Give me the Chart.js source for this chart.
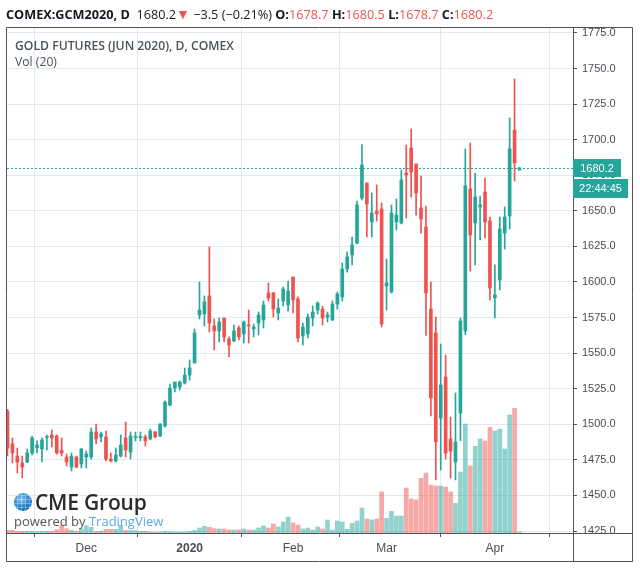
<!DOCTYPE html>
<html>
<head>
<meta charset="utf-8">
<title>GCM2020 daily</title>
<script src="https://cdn.jsdelivr.net/npm/chart.js@4.4.1/dist/chart.umd.min.js"></script>
<style>
  body { margin: 0; background: #fff; }
  #box { position: relative; width: 640px; height: 569px; overflow: hidden; font-family: "Open Sans", sans-serif; }
  #box canvas { position: absolute; left: 0; top: 0; }
  .lbl { position: absolute; white-space: nowrap; line-height: normal; }
  #head { left: 6px; top: 5px; font-size: 12.7px; color: #131722; }
  #head b { font-weight: 700; }
  .dn { color: #ef5350; }
  .tri { font-size: 14px; line-height: 10px; }
  #title { left: 15px; top: 37px; font-size: 12.2px; font-weight: 600; color: #4c525e; }
  #vol { left: 15px; top: 53px; font-size: 12.2px; color: #4c525e; }
  #globe { position: absolute; left: 14px; top: 493px; width: 18px; height: 18px; border-radius: 50%;
    background:
      repeating-linear-gradient(90deg, transparent 0 3px, rgba(255,255,255,0.3) 3px 4px),
      repeating-linear-gradient(0deg, transparent 0 3px, rgba(255,255,255,0.3) 3px 4px),
      radial-gradient(circle at 40% 35%, #8cc8f0 0%, #2a86cc 45%, #0b5c9e 100%); }
  #cme { left: 35px; top: 488px; font-size: 21px; font-weight: 600; color: #2b2b2b; letter-spacing: -0.2px; }
  #pby { left: 14px; top: 512px; font-size: 13px; color: #555; }
  #pby span { color: #5aa8ec; }
</style>
</head>
<body>
<div id="box">
  <canvas id="c" width="640" height="569"></canvas>
  <div class="lbl" id="head"></div>
  <div class="lbl" id="title">GOLD FUTURES (JUN 2020), D, COMEX</div>
  <div class="lbl" id="vol">Vol (20)</div>
  <div id="globe"></div>
  <div class="lbl" id="cme">CME Group</div>
  <div class="lbl" id="pby">powered by <span>TradingView</span></div>
</div>
<script>
// daily bars, 7 Nov 2019 .. 8 Apr 2020 (index = trading day)
const open = [
  1509.3,1486.2,1477.7,1472.8,1473.5,1479.8,1483.5,1482.6,1490.7,1492.5,
  1491.8,1481.9,1477.0,1470.0,1477.0,1472.1,1477.0,1477.0,1494.6,1491.1,
  1491.1,1475.6,1474.2,1477.7,1490.4,1480.5,1490.7,1490.7,1491.1,1489.7,
  1494.6,1491.8,1498.8,1513.6,1525.5,1526.2,1529.0,1534.6,1543.1,1576.8,
  1577.5,1590.2,1569.1,1565.6,1574.7,1560.0,1558.5,1567.7,1563.5,1569.8,
  1567.0,1571.2,1573.3,1592.3,1592.3,1578.2,1586.7,1583.8,1603.5,1588.1,
  1562.1,1563.5,1574.7,1580.3,1581.0,1575.4,1573.3,1584.5,1589.5,1609.1,
  1619.0,1627.4,1659.0,1669.6,1642.2,1649.9,1651.3,1597.2,1593.0,1642.2,
  1641.5,1676.6,1694.2,1682.9,1652.0,1638.7,1581.0,1564.2,1504.4,1533.2,
  1489.7,1473.5,1507.9,1565.6,1665.4,1641.5,1652.7,1663.3,1642.9,1588.8,
  1601.4,1634.4,1646.4,1706.8,1678.7
];
const high = [
  1510.5,1490.4,1483.3,1477.7,1482.6,1491.8,1488.3,1490.4,1492.5,1496.0,
  1492.5,1490.4,1479.1,1479.8,1477.7,1483.0,1481.2,1497.4,1500.2,1494.6,
  1495.3,1479.8,1483.3,1492.5,1501.6,1494.6,1494.6,1494.6,1492.5,1496.7,
  1495.0,1500.5,1516.4,1528.3,1529.7,1530.4,1539.6,1545.2,1567.0,1600.0,
  1590.2,1624.6,1574.0,1574.7,1574.7,1561.4,1569.8,1569.1,1572.6,1580.3,
  1570.5,1578.9,1586.7,1599.3,1592.8,1588.1,1596.5,1600.7,1603.5,1589.5,
  1571.2,1577.5,1583.1,1586.0,1583.1,1578.9,1586.7,1593.0,1613.4,1621.1,
  1631.6,1656.9,1696.5,1669.6,1662.6,1668.2,1655.5,1616.2,1654.1,1658.3,
  1678.7,1696.3,1707.5,1682.9,1674.5,1653.4,1600.0,1575.4,1556.4,1548.7,
  1505.1,1522.0,1574.7,1693.5,1697.7,1676.4,1660.4,1673.1,1645.7,1612.0,
  1645.7,1652.7,1715.3,1742.7,1680.5
];
const low = [
  1477.7,1472.8,1465.8,1462.3,1473.0,1478.4,1479.8,1473.5,1481.9,1484.0,
  1479.0,1477.7,1470.7,1467.2,1469.3,1469.3,1469.3,1475.6,1486.2,1487.6,
  1474.2,1473.5,1473.5,1477.0,1477.0,1475.6,1488.3,1488.3,1484.7,1489.0,
  1490.5,1491.5,1498.0,1512.9,1522.7,1524.1,1528.3,1531.1,1543.1,1574.0,
  1569.1,1564.9,1552.2,1557.8,1557.8,1547.3,1558.0,1559.3,1557.1,1557.1,
  1561.4,1562.8,1567.7,1586.7,1575.4,1573.3,1583.1,1579.5,1578.2,1557.8,
  1555.7,1560.7,1569.1,1577.5,1569.8,1571.9,1573.0,1581.0,1586.7,1607.0,
  1612.0,1626.7,1657.6,1631.6,1631.6,1642.9,1568.4,1580.3,1592.3,1636.6,
  1640.8,1645.0,1659.7,1647.0,1634.4,1562.5,1505.8,1460.9,1467.9,1475.6,
  1462.3,1460.9,1488.5,1563.0,1607.7,1612.0,1629.5,1630.9,1587.4,1574.7,
  1594.4,1623.2,1637.3,1671.0,1678.7
];
const close = [
  1483.3,1479.8,1473.5,1470.0,1479.8,1490.4,1485.5,1489.0,1491.4,1490.4,
  1479.8,1479.8,1473.5,1477.7,1470.0,1482.6,1479.1,1494.6,1489.7,1493.2,
  1475.6,1474.2,1478.4,1485.5,1481.9,1491.8,1491.4,1491.4,1488.3,1495.3,
  1491.1,1500.2,1515.7,1525.5,1529.7,1529.7,1534.6,1539.6,1564.2,1580.3,
  1586.0,1571.2,1565.6,1571.9,1561.4,1555.7,1565.6,1561.4,1571.9,1569.1,
  1568.4,1576.8,1583.8,1588.8,1581.0,1581.7,1595.1,1593.7,1587.4,1560.7,
  1568.4,1575.4,1578.9,1585.2,1574.7,1576.8,1584.5,1591.6,1609.1,1617.6,
  1626.0,1654.1,1682.2,1654.8,1648.5,1647.8,1570.5,1599.3,1648.5,1647.1,
  1671.7,1675.2,1677.3,1662.6,1644.3,1592.3,1518.5,1487.6,1527.6,1479.8,
  1481.2,1487.6,1572.6,1667.5,1633.0,1659.7,1654.1,1642.2,1595.8,1590.9,
  1637.3,1645.7,1693.5,1683.7,1680.2
];
// volume, thousand contracts (no scale shown on the chart)
const volume = [
  8,8,5,5,5,5,4,5,5,5,
  10,23,13,8,5,12,22,17,5,6,
  11,11,11,23,8,8,7,5,5,3,
  3,3,5,4,3,3,3,5,8,15,
  20,17,13,12,12,9,9,9,12,9,
  9,15,21,15,27,18,33,48,30,24,
  12,15,9,18,12,39,9,36,33,11,
  29,36,75,42,39,42,123,44,65,51,
  51,135,102,99,164,180,144,141,141,138,
  123,89,183,327,201,260,282,276,317,306,
  312,252,354,374,3
];
const monthIdx = [16, 37, 58, 77, 99];
const monthLabels = ['Dec', '2020', 'Feb', 'Mar', 'Apr'];
const priceTicks = [1425, 1450, 1475, 1500, 1525, 1550, 1575, 1600, 1625, 1650, 1675, 1700, 1725, 1750, 1775];
const clockText = '22:44:45';

const upColor = '#26a69a';
const downColor = '#ef5350';
const axisFont = 'Liberation Sans, Arial, sans-serif';

const n = close.length - 1;
const chg = close[n] - close[n - 1];
const pct = chg / close[n - 1] * 100;
const minus = (s) => s.replace('-', '\u2212');
document.getElementById('head').innerHTML =
  `<b>COMEX:GCM2020, D</b>&nbsp; ${close[n].toFixed(1)}<span class="dn tri">\u25BC</span> ` +
  `${minus(chg.toFixed(1))} (${minus(pct.toFixed(2))}%) ` +
  `<b>O:</b><span class="dn">${open[n].toFixed(1)}</span> ` +
  `<b>H:</b><span class="dn">${high[n].toFixed(1)}</span> ` +
  `<b>L:</b><span class="dn">${low[n].toFixed(1)}</span> ` +
  `<b>C:</b><span class="dn">${close[n].toFixed(1)}</span>`;

const idx = close.map((_, i) => i);
const isUp = (i) => close[i] >= open[i];
const candleColors = idx.map(i => isUp(i) ? upColor : downColor);
const volColors = idx.map(i => isUp(i) ? 'rgba(38,166,154,0.5)' : 'rgba(239,83,80,0.5)');

const frame = {
  id: 'frame',
  beforeDatasetsDraw(chart) {
    const {ctx, chartArea: a, scales} = chart;
    const py = Math.round(scales.y.getPixelForValue(close[n])) + 0.5;
    ctx.save();
    ctx.strokeStyle = isUp(n) ? upColor : downColor;
    ctx.lineWidth = 1;
    ctx.setLineDash([2, 2]);
    ctx.beginPath();
    ctx.moveTo(a.left, py);
    ctx.lineTo(a.right, py);
    ctx.stroke();
    ctx.restore();
  },
  afterDraw(chart) {
    const {ctx, chartArea: a, scales} = chart;
    const r = a.right + 59;
    const b = a.bottom + 28;
    ctx.save();
    // price labels are cut at the time axis
    ctx.fillStyle = '#fff';
    ctx.fillRect(a.right + 1, a.bottom + 1, r - a.right - 1, b - a.bottom - 1);

    ctx.strokeStyle = '#50535e';
    ctx.lineWidth = 1;
    ctx.beginPath();
    ctx.moveTo(a.left - 0.5, a.top - 0.5); ctx.lineTo(r + 0.5, a.top - 0.5);
    ctx.moveTo(a.left - 0.5, a.top - 0.5); ctx.lineTo(a.left - 0.5, b + 0.5);
    ctx.moveTo(a.left - 0.5, b + 0.5); ctx.lineTo(r + 0.5, b + 0.5);
    ctx.moveTo(r + 0.5, a.top - 0.5); ctx.lineTo(r + 0.5, b + 0.5);
    ctx.moveTo(a.right + 0.5, a.top - 0.5); ctx.lineTo(a.right + 0.5, b + 0.5);
    ctx.moveTo(a.left - 0.5, a.bottom + 0.5); ctx.lineTo(r + 0.5, a.bottom + 0.5);
    ctx.stroke();

    // last price + clock boxes
    const py = Math.round(scales.y.getPixelForValue(close[n]));
    ctx.fillStyle = isUp(n) ? upColor : downColor;
    ctx.fillRect(a.right, py - 9, 48, 18);
    ctx.fillRect(a.right, py + 11, 55, 19);
    ctx.fillStyle = '#fff';
    ctx.font = '11px ' + axisFont;
    ctx.textAlign = 'center';
    ctx.textBaseline = 'middle';
    ctx.fillText(close[n].toFixed(1), a.right + 24, py + 0.5);
    ctx.fillText(clockText, a.right + 27.5, py + 20.5);
    ctx.restore();
  }
};

new Chart(document.getElementById('c'), {
  type: 'bar',
  data: {
    datasets: [
      {
        data: idx.map(i => ({x: i, y: [open[i], close[i]]})),
        backgroundColor: candleColors,
        barThickness: 3,
        minBarLength: 1,
        grouped: false,
        order: 1,
        yAxisID: 'y'
      },
      {
        data: idx.map(i => ({x: i, y: [low[i], high[i]]})),
        backgroundColor: candleColors,
        barThickness: 1,
        grouped: false,
        order: 2,
        yAxisID: 'y'
      },
      {
        data: idx.map(i => ({x: i, y: volume[i]})),
        backgroundColor: volColors,
        barThickness: 4,
        grouped: false,
        order: 3,
        yAxisID: 'v'
      }
    ]
  },
  options: {
    responsive: false,
    animation: false,
    devicePixelRatio: 1,
    layout: {padding: {left: 7, top: 28, right: 8, bottom: 8}},
    plugins: {legend: {display: false}, tooltip: {enabled: false}},
    scales: {
      x: {
        type: 'linear',
        min: -0.1,
        max: 114.87,
        offset: false,
        afterFit: (s) => { s.height = 28; },
        afterBuildTicks: (s) => { s.ticks = monthIdx.map(v => ({value: v})); },
        grid: {color: '#e1e9ef', tickColor: '#50535e', tickLength: 4},
        border: {display: false},
        ticks: {
          autoSkip: false,
          maxRotation: 0,
          padding: 4,
          color: '#4a4d57',
          font: (c) => ({
            family: axisFont,
            size: 12,
            weight: c.tick && c.tick.value === 37 ? 'bold' : 'normal'
          }),
          callback: (v) => monthLabels[monthIdx.indexOf(v)]
        }
      },
      y: {
        position: 'right',
        min: 1423.6,
        max: 1778.5,
        afterFit: (s) => { s.width = 59; },
        afterBuildTicks: (s) => { s.ticks = priceTicks.map(v => ({value: v})); },
        grid: {color: '#e1e9ef', tickColor: '#50535e', tickLength: 4},
        border: {display: false},
        ticks: {
          padding: 5,
          color: '#4a4d57',
          font: {family: axisFont, size: 11},
          callback: (v) => v.toFixed(1)
        }
      },
      v: {display: false, min: 0, max: 1515}
    }
  },
  plugins: [frame]
});
</script>
</body>
</html>
